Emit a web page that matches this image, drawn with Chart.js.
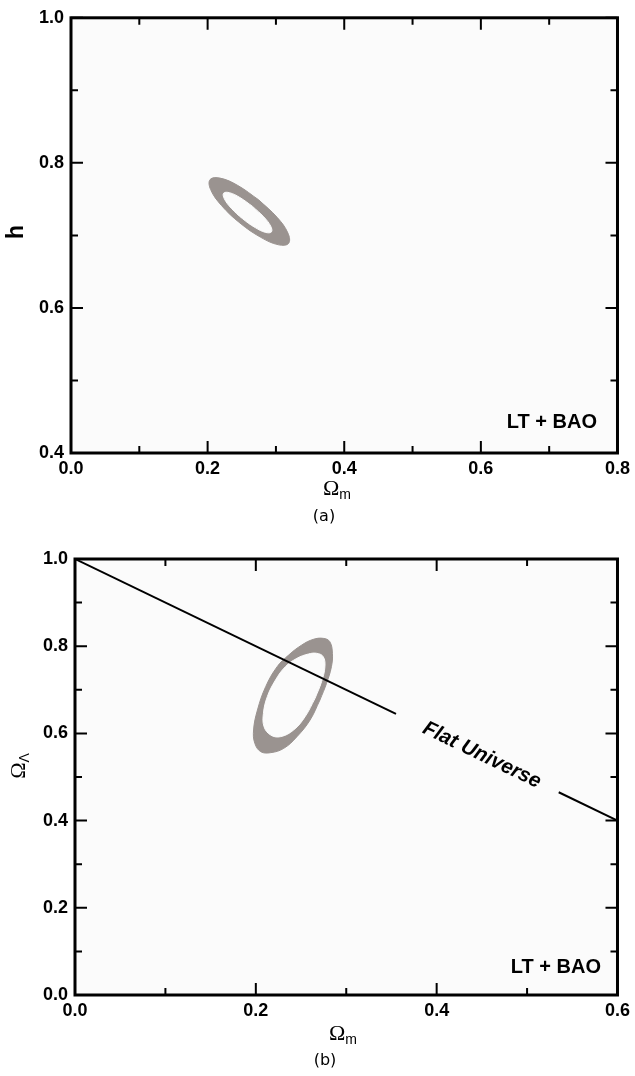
<!DOCTYPE html>
<html lang="en">
<head>
<meta charset="utf-8">
<title>LT + BAO contours</title>
<script src="https://cdn.jsdelivr.net/npm/chart.js"></script>
<style>
  body { margin: 0; background: #ffffff; }
  .panel { position: relative; width: 635px; height: 538px; }
  canvas { display: block; }
</style>
</head>
<body>
<div class="panel"><canvas id="chartA"></canvas></div>
<div class="panel"><canvas id="chartB"></canvas></div>
<script>
// ---- panel (a): Omega_m vs h ----
const omMajorA = [0, 0.2, 0.4, 0.6, 0.8];
const omMinorA = [0.1, 0.3, 0.5, 0.7];
const hMajor = [0.4, 0.6, 0.8, 1.0];
const hMinor = [0.5, 0.7, 0.9];
// outer edge of the grey contour (Omega_m, h), loop starts on a long side
const ringAOuter = [
  [0.2747, 0.7490], [0.3017, 0.7249], [0.3177, 0.7029], [0.3185, 0.6890], [0.3040, 0.6870],
  [0.2779, 0.6973], [0.2474, 0.7170], [0.2204, 0.7411], [0.2044, 0.7632], [0.2036, 0.7770],
  [0.2181, 0.7790], [0.2442, 0.7688], [0.2747, 0.7490]
];
// inner (white) hole
const ringAInner = [
  [0.2657, 0.7400], [0.2822, 0.7255], [0.2924, 0.7126], [0.2934, 0.7048], [0.2850, 0.7041],
  [0.2696, 0.7108], [0.2512, 0.7230], [0.2346, 0.7375], [0.2245, 0.7504], [0.2234, 0.7582],
  [0.2319, 0.7589], [0.2473, 0.7522], [0.2657, 0.7400]
];

// ---- panel (b): Omega_m vs Omega_Lambda ----
const omMajorB = [0, 0.2, 0.4, 0.6];
const omMinorB = [0.1, 0.3, 0.5];
const olMajor = [0, 0.2, 0.4, 0.6, 0.8, 1.0];
const olMinor = [0.1, 0.3, 0.5, 0.7, 0.9];
const ringBOuter = [
  [0.2709, 0.6766], [0.2600, 0.6307], [0.2455, 0.5925], [0.2309, 0.5657], [0.2164, 0.5558],
  [0.2055, 0.5581], [0.1989, 0.5772], [0.1975, 0.6078], [0.2018, 0.6537], [0.2109, 0.7072],
  [0.2236, 0.7530], [0.2364, 0.7798], [0.2509, 0.8028], [0.2636, 0.8157], [0.2745, 0.8180],
  [0.2818, 0.8104], [0.2847, 0.7837], [0.2836, 0.7530], [0.2782, 0.7148], [0.2709, 0.6766]
];
const ringBInner = [
  [0.2655, 0.6804], [0.2545, 0.6384], [0.2418, 0.6078], [0.2273, 0.5925], [0.2164, 0.5963],
  [0.2091, 0.6154], [0.2084, 0.6460], [0.2127, 0.6842], [0.2218, 0.7225], [0.2327, 0.7530],
  [0.2455, 0.7722], [0.2582, 0.7821], [0.2673, 0.7837], [0.2745, 0.7760], [0.2764, 0.7530],
  [0.2727, 0.7186], [0.2655, 0.6804]
];
// flat universe line, broken where the label sits
const flatLeft = [[0.0, 1.0], [0.355, 0.645]];
const flatRight = [[0.535, 0.465], [0.6, 0.4]];
const flatLabelAt = [0.45, 0.55];

const RING = '#9a9390';
const PLOT_BG = '#fbfbfb';
const SANS = 'Liberation Sans, Arial, sans-serif';
const SERIF = 'Liberation Serif, Times New Roman, serif';
const TICK_FONT = { family: SANS, size: 18, weight: 'bold' };

function pts(list) {
  return list.map(p => ({ x: p[0], y: p[1] }));
}

function ringSets(outer, inner) {
  return [
    { data: pts(inner), showLine: true, fill: 'shape', backgroundColor: PLOT_BG, borderColor: PLOT_BG,
      borderWidth: 1, pointRadius: 0, tension: 0.4, order: 1 },
    { data: pts(outer), showLine: true, fill: 'shape', backgroundColor: RING, borderColor: RING,
      borderWidth: 1, pointRadius: 0, tension: 0.4, order: 2 }
  ];
}

// draws plot background, frame, inward ticks and the texts
function panelPlugin(o) {
  return {
    id: 'panel' + o.tag,
    beforeDraw(chart) {
      const a = chart.chartArea, ctx = chart.ctx;
      ctx.save();
      ctx.fillStyle = PLOT_BG;
      ctx.fillRect(a.left, a.top, a.right - a.left, a.bottom - a.top);
      ctx.restore();
    },
    afterDatasetsDraw(chart) {
      const a = chart.chartArea, ctx = chart.ctx;
      const xs = chart.scales.x, ys = chart.scales.y;
      ctx.save();
      ctx.strokeStyle = '#000';
      ctx.lineWidth = 2;
      ctx.beginPath();
      o.xMajor.forEach(v => tickX(xs.getPixelForValue(v), 12));
      o.xMinor.forEach(v => tickX(xs.getPixelForValue(v), 7));
      o.yMajor.forEach(v => tickY(ys.getPixelForValue(v), 12));
      o.yMinor.forEach(v => tickY(ys.getPixelForValue(v), 7));
      ctx.stroke();
      function tickX(px, len) {
        ctx.moveTo(px, a.bottom); ctx.lineTo(px, a.bottom - len);
        ctx.moveTo(px, a.top); ctx.lineTo(px, a.top + len);
      }
      function tickY(py, len) {
        ctx.moveTo(a.left, py); ctx.lineTo(a.left + len, py);
        ctx.moveTo(a.right, py); ctx.lineTo(a.right - len, py);
      }
      ctx.lineWidth = 3;
      ctx.strokeRect(a.left, a.top, a.right - a.left, a.bottom - a.top);

      ctx.fillStyle = '#000';
      // LT + BAO
      ctx.font = 'bold 20px ' + SANS;
      ctx.textAlign = 'right';
      ctx.textBaseline = 'middle';
      ctx.fillText('LT + BAO', o.tagX, o.tagY);

      // x title: Omega_m
      omegaSub(o.xTitleX, o.xTitleY, 'm');

      // y title
      ctx.save();
      ctx.translate(o.yTitleX, o.yTitleY);
      ctx.rotate(-Math.PI / 2);
      if (o.yTitle === 'h') {
        ctx.font = 'bold 23px ' + SANS;
        ctx.textAlign = 'center';
        ctx.textBaseline = 'middle';
        ctx.fillText('h', 0, 0);
      } else {
        omegaSub(0, 0, 'Λ');
      }
      ctx.restore();

      // caption
      ctx.font = '16px DejaVu Sans, sans-serif';
      ctx.textAlign = 'center';
      ctx.textBaseline = 'middle';
      ctx.fillText(o.caption, o.capX, o.capY);

      // flat universe label, rotated along the line
      if (o.flat) {
        const p0 = [xs.getPixelForValue(flatLeft[0][0]), ys.getPixelForValue(flatLeft[0][1])];
        const p1 = [xs.getPixelForValue(flatRight[1][0]), ys.getPixelForValue(flatRight[1][1])];
        const ang = Math.atan2(p1[1] - p0[1], p1[0] - p0[0]);
        ctx.save();
        ctx.translate(xs.getPixelForValue(flatLabelAt[0]), ys.getPixelForValue(flatLabelAt[1]));
        ctx.rotate(ang);
        ctx.font = 'italic bold 20.5px ' + SANS;
        ctx.textAlign = 'center';
        ctx.textBaseline = 'middle';
        ctx.fillText('Flat Universe', 0, 0);
        ctx.restore();
      }
      ctx.restore();

      function omegaSub(cx, cy, sub) {
        ctx.font = '22px ' + SERIF;
        const w1 = ctx.measureText('Ω').width;
        ctx.font = '14px ' + SANS;
        const w2 = ctx.measureText(sub).width;
        const x0 = cx - (w1 + w2) / 2;
        ctx.textAlign = 'left';
        ctx.textBaseline = 'middle';
        ctx.font = '22px ' + SERIF;
        ctx.fillText('Ω', x0, cy);
        ctx.font = '14px ' + SANS;
        ctx.fillText(sub, x0 + w1, cy + 6);
      }
    }
  };
}

function scaleOpts(min, max, step, pad, fixSize) {
  return {
    type: 'linear', min: min, max: max,
    ticks: { stepSize: step, color: '#000', font: TICK_FONT, padding: pad,
             callback: v => v.toFixed(1) },
    grid: { display: false, drawTicks: false },
    border: { display: false },
    afterFit: fixSize
  };
}

function buildChart(id, o) {
  const datasets = ringSets(o.outer, o.inner);
  if (o.flat) {
    [flatLeft, flatRight].forEach(seg => datasets.push({
      data: pts(seg), showLine: true, fill: false, borderColor: '#000', borderWidth: 2,
      pointRadius: 0, order: 0
    }));
  }
  return new Chart(document.getElementById(id), {
    type: 'scatter',
    data: { datasets: datasets },
    options: {
      responsive: true,
      maintainAspectRatio: false,
      animation: false,
      events: [],
      layout: { padding: { left: 0, top: o.top, right: 635 - o.right, bottom: 0 } },
      plugins: { legend: { display: false }, tooltip: { enabled: false } },
      scales: {
        x: scaleOpts(o.xMin, o.xMax, 0.2, 5, s => { s.height = 538 - o.bottom; }),
        y: scaleOpts(o.yMin, o.yMax, 0.2, 7, s => { s.width = o.left; })
      }
    },
    plugins: [panelPlugin(o)]
  });
}

buildChart('chartA', {
  tag: 'A', outer: ringAOuter, inner: ringAInner, flat: false,
  xMin: 0, xMax: 0.8, yMin: 0.4, yMax: 1.0,
  xMajor: omMajorA, xMinor: omMinorA, yMajor: hMajor, yMinor: hMinor,
  left: 71, right: 622, top: 16, bottom: 453,
  tagX: 597, tagY: 422,
  xTitleX: 337, xTitleY: 489, yTitle: 'h', yTitleX: 17, yTitleY: 232,
  caption: '(a)', capX: 324, capY: 517
});

buildChart('chartB', {
  tag: 'B', outer: ringBOuter, inner: ringBInner, flat: true,
  xMin: 0, xMax: 0.6, yMin: 0, yMax: 1.0,
  xMajor: omMajorB, xMinor: omMinorB, yMajor: olMajor, yMinor: olMinor,
  left: 75, right: 625, top: 21, bottom: 457,
  tagX: 601, tagY: 429,
  xTitleX: 343, xTitleY: 496, yTitle: 'OL', yTitleX: 19, yTitleY: 228,
  caption: '(b)', capX: 325, capY: 523
});
</script>
</body>
</html>
